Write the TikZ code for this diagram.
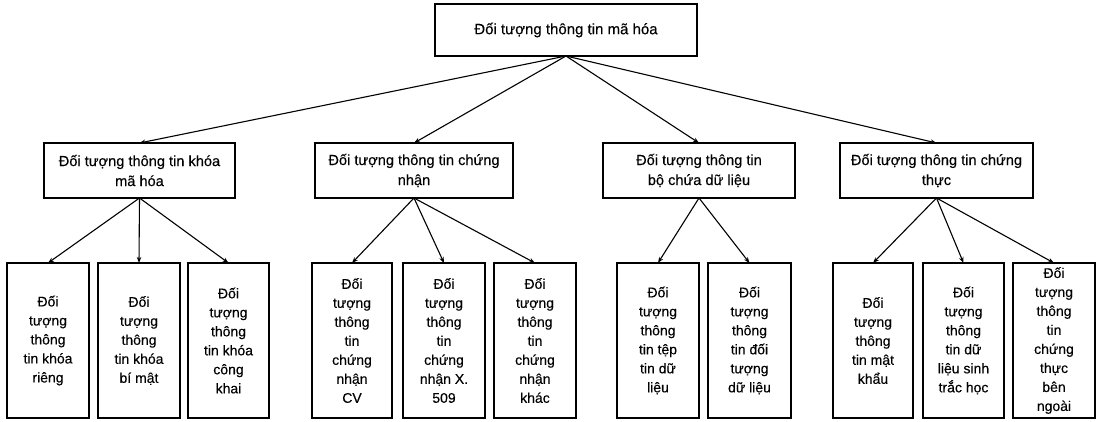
\documentclass[tikz,border=0pt]{standalone}
\usepackage{fontspec}
\setmainfont{Liberation Sans}[FakeBold=0.3]
\usetikzlibrary{arrows.meta}
\begin{document}
\begin{tikzpicture}[x=1pt,y=-1pt,
  box/.style={draw, line width=1.1pt, inner sep=0pt, outer sep=0pt, align=center,
    font=\fontsize{14}{19}\selectfont},
  topbox/.style={box, minimum width=262pt, minimum height=52pt, font=\fontsize{15}{19}\selectfont},
  midbox/.style={box, minimum height=55pt, font=\fontsize{14.6}{20}\selectfont},
  leafbox/.style={box, minimum height=155pt},
  link/.style={line width=1.1pt, -{Stealth[length=6pt,width=4.5pt]}}
]
\useasboundingbox (0,0) rectangle (1098,422);

% root
\node[topbox] (root) at (566,30) {Đối tượng thông tin mã hóa};

% second level
\node[midbox, minimum width=191pt] (m1) at (139.5,170.5) {Đối tượng thông tin khóa\\mã hóa};
\node[midbox, minimum width=198pt] (m2) at (414,170.5) {Đối tượng thông tin chứng\\nhận};
\node[midbox, minimum width=192pt] (m3) at (699,170.5) {Đối tượng thông tin\\bộ chứa dữ liệu};
\node[midbox, minimum width=193pt] (m4) at (936.5,170.5) {Đối tượng thông tin chứng\\thực};

% leaves
\node[leafbox, minimum width=82pt] (a) at (48,340.5) {Đối\\tượng\\thông\\tin khóa\\riêng};
\node[leafbox, minimum width=82pt] (b) at (139,340.5) {Đối\\tượng\\thông\\tin khóa\\bí mật};
\node[leafbox, minimum width=81pt] (c) at (228.5,340.5) {Đối\\tượng\\thông\\tin khóa\\công\\khai};

\node[leafbox, minimum width=80pt] (d) at (352,340.5) {Đối\\tượng\\thông\\tin\\chứng\\nhận\\CV};
\node[leafbox, minimum width=82pt] (e) at (444,340.5) {Đối\\tượng\\thông\\tin\\chứng\\nhận X.\\509};
\node[leafbox, minimum width=82pt] (f) at (535,340.5) {Đối\\tượng\\thông\\tin\\chứng\\nhận\\khác};

\node[leafbox, minimum width=82pt] (g) at (658,340.5) {Đối\\tượng\\thông\\tin tệp\\tin dữ\\liệu};
\node[leafbox, minimum width=83pt] (h) at (749.5,340.5) {Đối\\tượng\\thông\\tin đối\\tượng\\dữ liệu};

\node[leafbox, minimum width=80pt] (i) at (873,340.5) {Đối\\tượng\\thông\\tin mật\\khẩu};
\node[leafbox, minimum width=81pt] (j) at (963.5,340.5) {Đối\\tượng\\thông\\tin dữ\\liệu sinh\\trắc học};
\node[leafbox, minimum width=82pt] (k) at (1054,340.5) {Đối\\tượng\\thông\\tin\\chứng\\thực\\bên\\ngoài};

% connectors
\foreach \m in {m1,m2,m3,m4} \draw[link] (root.south) -- (\m.north);
\foreach \l in {a,b,c} \draw[link] (m1.south) -- (\l.north);
\foreach \l in {d,e,f} \draw[link] (m2.south) -- (\l.north);
\foreach \l in {g,h} \draw[link] (m3.south) -- (\l.north);
\foreach \l in {i,j,k} \draw[link] (m4.south) -- (\l.north);
\end{tikzpicture}
\end{document}
